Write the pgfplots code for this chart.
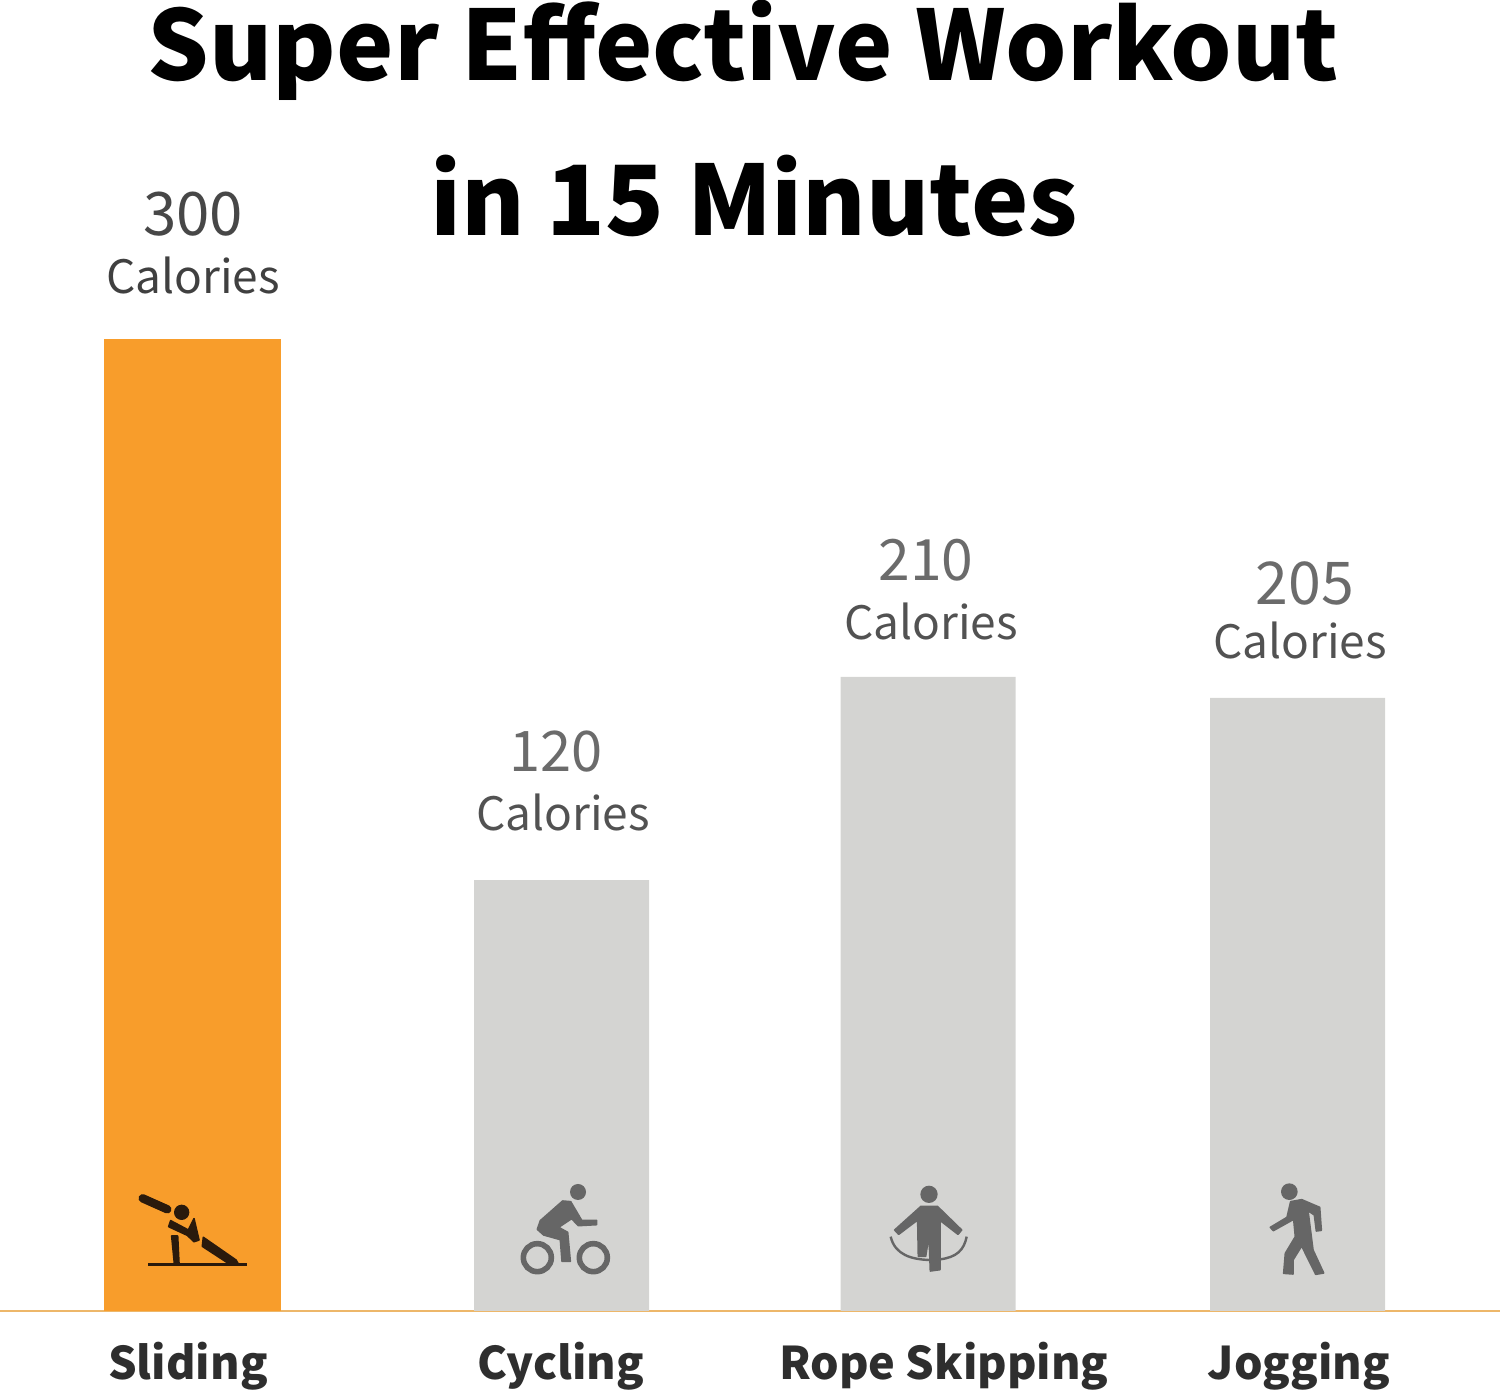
\documentclass[border=0pt]{standalone}
\usepackage{fontspec}
\setmainfont{Noto Sans CJK SC}
\usepackage{pgfplots}
\pgfplotsset{compat=1.18}
\definecolor{barorange}{HTML}{F89D2B}
\definecolor{bargray}{HTML}{D4D4D2}
\definecolor{baseline}{HTML}{EDB76A}
\definecolor{icongray}{HTML}{666666}
\definecolor{iconblack}{HTML}{2A1A0C}
\tikzset{blob/.style={fill=#1,draw=#1,line width=0.8pt,line join=round}}
\begin{document}
\begin{tikzpicture}
\path[use as bounding box] (0,-40.5pt) rectangle (750pt,655.5pt);
\begin{axis}[
  scale only axis, width=750pt, height=655.5pt,
  xmin=0, xmax=1500, ymin=0, ymax=404.63,
  axis x line=bottom, axis y line=none,
  x axis line style={-, draw=baseline, line width=1.3pt},
  major tick length=0pt,
  xtick={188,561,944,1299},
  xticklabels={Sliding,Cycling,Rope Skipping,Jogging},
  xticklabel style={font=\fontsize{22.5}{26}\selectfont\bfseries, text=black!82, anchor=center, yshift=-27.5pt},
  clip=false,
]
\addplot[ybar, bar shift=0pt, bar width=88.5pt, draw=none, fill=barorange] coordinates {(192.5,300)};
\addplot[ybar, bar shift=0pt, bar width=87.5pt, draw=none, fill=bargray] coordinates {(561.5,133) (928,195.7) (1297.5,189.2)};
\end{axis}
\begin{scope}[x=0.5pt,y=-0.5pt,yshift=655.5pt]
\node[font=\fontsize{48.4}{52}\selectfont\bfseries] at (743,50) {Super Effective Workout};
\node[font=\fontsize{48.4}{52}\selectfont\bfseries] at (754,196) {in 15 Minutes};
\def\calf{\fontsize{23}{26}\selectfont}
\node[font=\fontsize{30}{32}\selectfont,text=black!72] at (193,214) {300};
\node[font=\calf,text=black!75] at (193,276) {Calories};
\node[font=\fontsize{28}{32}\selectfont,text=black!58] at (556,752) {120};
\node[font=\calf,text=black!68] at (563,812.5) {Calories};
\node[font=\fontsize{28.5}{32}\selectfont,text=black!58] at (926,560) {210};
\node[font=\calf,text=black!68] at (931,621.5) {Calories};
\node[font=\fontsize{29.5}{32}\selectfont,text=black!58] at (1305,583) {205};
\node[font=\calf,text=black!68] at (1300,640.5) {Calories};
\end{scope}
% Sliding icon
\begin{scope}[shift={(60pt,70.5pt)},x=0.16667pt,y=-0.16667pt]
\fill[iconblack] (85,279) rectangle (380,287);
\draw[iconblack,line width=4.2pt,line cap=round] (68,85) -- (142,118);
\fill[iconblack] (185,127) circle[radius=23];
\path[blob=iconblack] (152,152) -- (205,180) -- (222,146) -- (237,210) -- (222,215) -- (202,196) -- (146,170) -- cycle;
\path[blob=iconblack] (155,198) -- (173,198) -- (177,280) -- (163,280) -- cycle;
\path[blob=iconblack] (250,202) -- (348,270) -- (354,280) -- (325,280) -- (247,229) -- cycle;
\end{scope}
% Cycling icon
\begin{scope}[shift={(250pt,70.5pt)},x=0.16667pt,y=-0.16667pt]
\fill[icongray] (234,66) circle[radius=24];
\draw[icongray,line width=2.8pt] (112,263) circle[radius=42];
\draw[icongray,line width=2.8pt] (280,263) circle[radius=42];
\path[blob=icongray] (188,93) -- (212,95) -- (245,151) -- (290,151) -- (290,164) -- (235,167) -- (215,146) -- (176,172) -- (203,187) -- (211,274) -- (186,274) -- (181,209) -- (131,195) -- (112,178) -- (121,152) -- cycle;
\end{scope}
% Rope skipping icon
\begin{scope}[shift={(435pt,70.5pt)},x=0.16667pt,y=-0.16667pt]
\fill[icongray] (177,73) circle[radius=26];
\draw[icongray,line width=1.2pt] (62,200) .. controls (75,255) and (125,268) .. (178,270);
\draw[icongray,line width=1.2pt] (210,268) .. controls (260,262) and (282,240) .. (290,200);
\path[blob=icongray] (153,109) -- (202,109) -- (275,180) -- (264,193) -- (210,151) -- (210,299) -- (181,303) -- (177,196) -- (167,259) -- (145,259) -- (143,150) -- (86,193) -- (74,180) -- cycle;
\end{scope}
% Jogging icon
\begin{scope}[shift={(620pt,70.5pt)},x=0.16667pt,y=-0.16667pt]
\fill[icongray] (148,65) circle[radius=25];
\path[blob=icongray] (152,95) -- (185,89) -- (239,112) -- (244,181) -- (229,183) -- (223,135) -- (204,122) -- (219,240) -- (251,309) -- (227,313) -- (185,228) -- (159,270) -- (159,312) -- (131,310) -- (136,250) -- (166,200) -- (161,148) -- (100,182) -- (91,172) -- (141,142) -- cycle;
\end{scope}
\end{tikzpicture}
\end{document}
